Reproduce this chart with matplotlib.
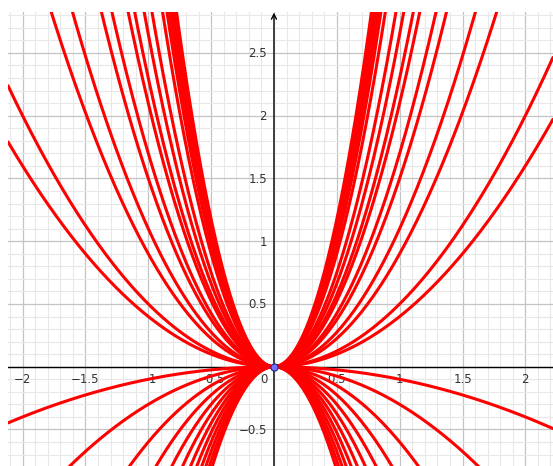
import numpy as np
import matplotlib.pyplot as plt
from matplotlib.ticker import MultipleLocator

# coefficients a of the parabolas y = a*x^2
pos_coeffs = [0.40, 0.50, 0.90, 1.10, 1.50, 1.70, 2.10, 2.30, 2.65, 3.00, 3.60,
              3.90, 4.10, 4.30, 4.50, 4.70]
neg_coeffs = [-0.10, -0.30, -0.60, -0.90, -1.20, -1.50, -1.80,
              -2.10, -2.40, -2.70, -3.00, -3.30]

x_ticks = [-2, -1.5, -1, -0.5, 0.5, 1, 1.5, 2]
y_ticks = [-0.5, 0.5, 1, 1.5, 2, 2.5]

xmin, xmax = -2.116, 2.22
ymin, ymax = -0.791, 2.826

fig = plt.figure(figsize=(5.53, 4.66), dpi=100)
ax = fig.add_axes([8 / 553, 0, 545 / 553, 454 / 466])
ax.set_xlim(xmin, xmax)
ax.set_ylim(ymin, ymax)

# grid: major every 0.5, minor every 0.1
ax.xaxis.set_major_locator(MultipleLocator(0.5))
ax.yaxis.set_major_locator(MultipleLocator(0.5))
ax.xaxis.set_minor_locator(MultipleLocator(0.1))
ax.yaxis.set_minor_locator(MultipleLocator(0.1))
ax.grid(which='major', color='#c4c4c4', lw=0.9, zorder=0)
ax.grid(which='minor', color='#e8e8e8', lw=0.8, zorder=0)
ax.set_axisbelow(True)
ax.tick_params(which='both', length=0, labelbottom=False, labelleft=False)
for s in ax.spines.values():
    s.set_visible(False)

# axes
ax.axhline(0, color='black', lw=1.0, zorder=1.8)
ax.annotate('', xy=(0, ymax - 0.005), xytext=(0, ymin - 0.1),
            arrowprops=dict(arrowstyle='->', color='black', lw=1.0,
                            mutation_scale=9, shrinkA=0, shrinkB=0),
            zorder=1.8)

# tick labels
lab = dict(fontsize=8.5, color='#333333', zorder=1.5, textcoords='offset pixels')
for t in x_ticks:
    ax.annotate(f'{t:g}'.replace('-', '\u2212'), xy=(t, 0), xytext=(0, -13),
                ha='center', va='center', **lab)
for t in y_ticks:
    ax.annotate(f'{t:g}'.replace('-', '\u2212'), xy=(0, t), xytext=(-7, -1),
                ha='right', va='center', **lab)
ax.annotate('0', xy=(0, 0), xytext=(-10, -13), ha='center', va='center', **lab)

# parabolas
xs = np.linspace(xmin, xmax, 1200)
for a in pos_coeffs + neg_coeffs:
    ax.plot(xs, a * xs ** 2, color='#ff0000', lw=2.2, zorder=2,
            solid_capstyle='round')

# point at the origin
ax.plot([0], [0], marker='o', ms=5.2, mfc='#7373ff', mec='#262680',
        mew=0.8, zorder=3, clip_on=False)

fig.savefig('out.png', dpi=100)
